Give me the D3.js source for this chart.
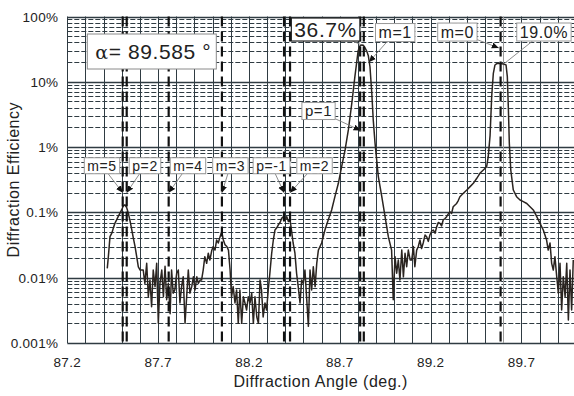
<!DOCTYPE html>
<html>
<head>
<meta charset="utf-8">
<script src="https://cdn.jsdelivr.net/npm/d3@7"></script>
<style>
  html, body { margin: 0; padding: 0; background: #fff; }
  svg { display: block; font-family: "Liberation Sans", Arial, sans-serif; }
</style>
</head>
<body>
<svg id="chart" width="574" height="396"></svg>
<script>
// measured diffraction efficiency (%) vs angle (deg.)
const angles = [
  87.420, 87.426, 87.435, 87.445, 87.453, 87.462, 87.480, 87.499, 87.508, 87.517,
  87.527, 87.536, 87.545, 87.555, 87.563, 87.573, 87.582, 87.591, 87.601, 87.618,
  87.627, 87.637, 87.646, 87.655, 87.664, 87.673, 87.683, 87.692, 87.701, 87.710,
  87.720, 87.729, 87.738, 87.747, 87.756, 87.766, 87.774, 87.783, 87.792, 87.802,
  87.811, 87.820, 87.829, 87.838, 87.848, 87.857, 87.866, 87.875, 87.885, 87.894,
  87.903, 87.913, 87.921, 87.931, 87.939, 87.948, 87.957, 87.967, 87.976, 87.985,
  87.995, 88.003, 88.013, 88.022, 88.031, 88.041, 88.050, 88.059, 88.068, 88.078,
  88.087, 88.096, 88.104, 88.113, 88.123, 88.132, 88.141, 88.150, 88.160, 88.169,
  88.178, 88.187, 88.196, 88.206, 88.215, 88.224, 88.233, 88.243, 88.252, 88.261,
  88.269, 88.278, 88.288, 88.297, 88.306, 88.315, 88.325, 88.334, 88.343, 88.353,
  88.361, 88.371, 88.380, 88.389, 88.398, 88.408, 88.417, 88.426, 88.434, 88.443,
  88.453, 88.462, 88.471, 88.481, 88.490, 88.499, 88.508, 88.518, 88.527, 88.536,
  88.545, 88.554, 88.564, 88.573, 88.582, 88.600, 88.618, 88.636, 88.655, 88.673,
  88.692, 88.710, 88.729, 88.747, 88.766, 88.783, 88.801, 88.811, 88.820, 88.829,
  88.838, 88.848, 88.857, 88.866, 88.876, 88.884, 88.894, 88.912, 88.931, 88.949,
  88.967, 88.985, 88.994, 89.004, 89.013, 89.022, 89.031, 89.041, 89.050, 89.059,
  89.068, 89.077, 89.087, 89.096, 89.105, 89.113, 89.123, 89.132, 89.141, 89.150,
  89.159, 89.169, 89.178, 89.187, 89.196, 89.206, 89.215, 89.224, 89.233, 89.242,
  89.252, 89.260, 89.269, 89.278, 89.288, 89.297, 89.306, 89.315, 89.324, 89.334,
  89.343, 89.352, 89.361, 89.380, 89.399, 89.417, 89.435, 89.453, 89.471, 89.490,
  89.508, 89.517, 89.527, 89.536, 89.545, 89.554, 89.564, 89.582, 89.600, 89.615,
  89.622, 89.628, 89.633, 89.641, 89.655, 89.673, 89.692, 89.710, 89.729, 89.747,
  89.765, 89.784, 89.802, 89.820, 89.838, 89.847, 89.857, 89.866, 89.875, 89.884,
  89.894, 89.903, 89.912, 89.921, 89.930, 89.940, 89.949, 89.958, 89.967, 89.976,
  89.985
];
const efficiency = [
  0.0139, 0.021, 0.0425, 0.048, 0.057, 0.068, 0.086, 0.109, 0.125, 0.131,
  0.118, 0.097, 0.075, 0.054, 0.041, 0.030, 0.021, 0.0147, 0.0131, 0.0131,
  0.0082, 0.0166, 0.0051, 0.0092, 0.0036, 0.0131, 0.0073, 0.0166, 0.002, 0.0082,
  0.0131, 0.0051, 0.0150, 0.0046, 0.0082, 0.0028, 0.0131, 0.0058, 0.0065, 0.0117,
  0.0131, 0.0041, 0.0073, 0.0103, 0.002, 0.0051, 0.0131, 0.0058, 0.0073, 0.0103,
  0.0065, 0.0103, 0.0082, 0.0092, 0.0092, 0.0131, 0.021, 0.0166, 0.0237, 0.0187,
  0.026, 0.030, 0.0265, 0.0378, 0.034, 0.0425, 0.0506, 0.0378, 0.032, 0.030,
  0.0265, 0.0131, 0.0051, 0.0073, 0.0041, 0.0065, 0.002, 0.0065, 0.002, 0.0051,
  0.0041, 0.0032, 0.0051, 0.0041, 0.0058, 0.002, 0.0051, 0.0025, 0.002, 0.0092,
  0.0065, 0.0025, 0.0041, 0.0032, 0.0065, 0.0117, 0.0237, 0.0378, 0.0537, 0.058,
  0.064, 0.070, 0.081, 0.086, 0.0766, 0.086, 0.0723, 0.0766, 0.0537, 0.034,
  0.0237, 0.0117, 0.0073, 0.0041, 0.0092, 0.0082, 0.0131, 0.0046, 0.0018, 0.0131,
  0.0065, 0.0147, 0.0073, 0.0166, 0.0265, 0.034, 0.0537, 0.0766, 0.109, 0.174,
  0.279, 0.501, 0.904, 1.83, 4.69, 12.0, 30.0, 35.5, 36.7, 36.2,
  33.5, 29.5, 25.0, 17.0, 6.67, 2.6, 1.14, 0.352, 0.174, 0.086,
  0.0425, 0.0265, 0.0046, 0.021, 0.0117, 0.0187, 0.0092, 0.0265, 0.0103, 0.0237,
  0.0147, 0.0265, 0.0187, 0.0187, 0.030, 0.0147, 0.0265, 0.030, 0.0378, 0.028,
  0.034, 0.045, 0.0425, 0.036, 0.045, 0.052, 0.0537, 0.048, 0.060, 0.070,
  0.068, 0.062, 0.0766, 0.080, 0.086, 0.095, 0.102, 0.096, 0.122, 0.130,
  0.137, 0.152, 0.174, 0.196, 0.22, 0.248, 0.279, 0.33, 0.397, 0.446,
  0.50, 0.713, 1.5, 6.0, 13.5, 18.1, 19.0, 19.0, 18.8, 18.1,
  12.0, 3.70, 1.14, 0.446, 0.22, 0.174, 0.155, 0.146, 0.137, 0.122,
  0.109, 0.086, 0.068, 0.0537, 0.0378, 0.0265, 0.034, 0.0166, 0.0131, 0.021,
  0.0103, 0.0058, 0.0166, 0.0032, 0.0103, 0.0051, 0.0166, 0.00225, 0.0131, 0.0032,
  0.0187
];

// calculated order positions (deg.)
const orderAngles = [87.505, 87.527, 87.758, 88.051, 88.393, 88.426, 88.812, 88.832, 89.585];
const alphaValue = 89.585;

const xTicks = [87.2, 87.7, 88.2, 88.7, 89.2, 89.7];
const yTicks = [0.001, 0.01, 0.1, 1, 10, 100];
const yTickLabels = ['0.001%', '0.01%', '0.1%', '1%', '10%', '100%'];

// annotations: label, the point it refers to (angle, %)
const annoText  = ['m=5', 'p=2', 'm=4', 'm=3', 'p=-1', 'm=2', 'p=1', 'm=1', 'm=0', '19.0%', '36.7%'];
const annoAngle = [87.505, 87.527, 87.758, 88.051, 88.393, 88.426, 88.814, 88.860, 89.575, 89.605, 88.820];
const annoValue = [0.2, 0.2, 0.2, 0.2, 0.2, 0.2, 1.8, 20, 33, 19.0, 36.7];

// box placement relative to the target point (px)
const annoLayout = [
    { dx: -20.7, dy: -27, size: 14, arrow: true },
    { dx: 18.3, dy: -27, size: 14, arrow: true },
    { dx: 19.3, dy: -27, size: 14, arrow: true },
    { dx: 8.5, dy: -27, size: 14, arrow: true },
    { dx: -12.5, dy: -27, size: 14, arrow: true },
    { dx: 24.5, dy: -27, size: 14, arrow: true },
    { dx: -42, dy: -19.4, size: 15, arrow: true },
    { dx: 26.3, dy: -29.6, size: 16, arrow: true },
    { dx: -41.4, dy: -15.9, size: 16, arrow: true },
    { dx: 39.7, dy: -31.6, size: 16, arrow: false },
    { dx: -36, dy: -15.4, size: 21, arrow: false, dark: true }
];

const width = 574, height = 396;
const margin = { top: 16.5, right: -2, bottom: 53, left: 67.3 };
const gridColor = '#2f3b42';

const svg = d3.select('#chart');

const x = d3.scaleLinear()
    .domain([87.2, 90.0])
    .range([margin.left, width - margin.right]);

const y = d3.scaleLog()
    .domain([0.001, 100])
    .range([height - margin.bottom, margin.top]);

const plotTop = y(100), plotBottom = y(0.001);
const plotLeft = x(87.2), plotRight = x(90.0);

svg.append('defs').append('clipPath')
    .attr('id', 'plot-clip')
    .append('rect')
    .attr('x', plotLeft).attr('y', plotTop - 1)
    .attr('width', plotRight - plotLeft).attr('height', plotBottom - plotTop + 2);

svg.select('defs').append('marker')
    .attr('id', 'arrow')
    .attr('viewBox', '0 -4 8 8')
    .attr('refX', 8)
    .attr('refY', 0)
    .attr('markerWidth', 7)
    .attr('markerHeight', 7)
    .attr('markerUnits', 'userSpaceOnUse')
    .attr('orient', 'auto')
    .append('path')
    .attr('d', 'M0,-3.5L8,0L0,3.5Z')
    .attr('fill', '#111');

// grid
const grid = svg.append('g').attr('class', 'grid');

const minorY = [];
yTicks.slice(0, -1).forEach(d => {
    for (let k = 2; k <= 9; k++) minorY.push(d * k);
});

grid.selectAll('line.minor-y')
    .data(minorY)
    .join('line')
    .attr('class', 'minor-y')
    .attr('x1', plotLeft).attr('x2', plotRight)
    .attr('y1', d => Math.round(y(d)) + 0.5).attr('y2', d => Math.round(y(d)) + 0.5)
    .attr('stroke', gridColor)
    .attr('stroke-width', 1)
    .attr('stroke-dasharray', '5,2');

grid.selectAll('line.major-y')
    .data(yTicks)
    .join('line')
    .attr('class', 'major-y')
    .attr('x1', plotLeft).attr('x2', plotRight)
    .attr('y1', d => Math.round(y(d)) + 0.5).attr('y2', d => Math.round(y(d)) + 0.5)
    .attr('stroke', gridColor)
    .attr('stroke-width', 1.3);

const vGrid = d3.range(0, 29).map(i => +(87.2 + i * 0.1).toFixed(1));
grid.selectAll('line.v')
    .data(vGrid)
    .join('line')
    .attr('class', 'v')
    .attr('x1', d => Math.round(x(d)) + 0.5).attr('x2', d => Math.round(x(d)) + 0.5)
    .attr('y1', plotTop).attr('y2', plotBottom)
    .attr('stroke', d => Math.abs(d - 89.6) < 1e-6 ? '#9a9a9a' : gridColor)
    .attr('stroke-width', 1);

// curve
const line = d3.line()
    .x(i => x(angles[i]))
    .y(i => y(efficiency[i]));

svg.append('path')
    .datum(d3.range(angles.length))
    .attr('clip-path', 'url(#plot-clip)')
    .attr('d', line)
    .attr('fill', 'none')
    .attr('stroke', '#2a2420')
    .attr('stroke-width', 1.5)
    .attr('stroke-linejoin', 'round');

// order positions
svg.append('g')
    .selectAll('line')
    .data(orderAngles)
    .join('line')
    .attr('x1', d => x(d)).attr('x2', d => x(d))
    .attr('y1', plotTop).attr('y2', plotBottom + 3)
    .attr('stroke', '#111')
    .attr('stroke-width', 2.2)
    .attr('stroke-dasharray', '10,5');

// axes labels
svg.append('g')
    .selectAll('text')
    .data(xTicks)
    .join('text')
    .attr('x', d => x(d))
    .attr('y', plotBottom + 24)
    .attr('text-anchor', 'middle')
    .attr('font-size', 13.5)
    .attr('letter-spacing', 0.3)
    .attr('fill', '#222')
    .text(d => d.toFixed(1));

svg.append('g')
    .selectAll('text')
    .data(yTicks)
    .join('text')
    .attr('x', plotLeft - 9)
    .attr('y', d => y(d) + 5)
    .attr('text-anchor', 'end')
    .attr('font-size', 13.5)
    .attr('letter-spacing', 0.3)
    .attr('fill', '#222')
    .text((d, i) => yTickLabels[i]);

svg.append('text')
    .attr('x', (plotLeft + width) / 2)
    .attr('y', height - 9)
    .attr('text-anchor', 'middle')
    .attr('font-size', 16)
    .attr('letter-spacing', 0.5)
    .attr('fill', '#222')
    .text('Diffraction Angle (deg.)');

svg.append('text')
    .attr('transform', `translate(19,${(plotTop + plotBottom) / 2}) rotate(-90)`)
    .attr('text-anchor', 'middle')
    .attr('font-size', 16)
    .attr('letter-spacing', 0.5)
    .attr('fill', '#222')
    .text('Diffraction Efficiency');

// alpha box
const alphaG = svg.append('g');
alphaG.append('rect')
    .attr('x', plotLeft + 20).attr('y', 34)
    .attr('width', 129).attr('height', 35)
    .attr('fill', '#fff')
    .attr('stroke', '#8a8a8a')
    .attr('stroke-width', 1);
const alphaText = alphaG.append('text')
    .attr('x', plotLeft + 28).attr('y', 59)
    .attr('font-size', 21)
    .attr('letter-spacing', 0.6)
    .attr('fill', '#222');
alphaText.append('tspan')
    .attr('font-family', '"DejaVu Serif", "Liberation Serif", serif')
    .attr('font-size', 19)
    .text('α');
alphaText.append('tspan')
    .text('= ' + alphaValue.toFixed(3) + ' °');

// annotations
const annoG = svg.append('g');
annoText.forEach((label, i) => {
    const lay = annoLayout[i];
    const tx = x(annoAngle[i]), ty = y(annoValue[i]);
    const cx = tx + lay.dx, cy = ty + lay.dy;

    const g = annoG.append('g');
    const text = g.append('text')
        .attr('x', cx).attr('y', cy + lay.size * 0.36)
        .attr('text-anchor', 'middle')
        .attr('font-size', lay.size)
        .attr('letter-spacing', 0.6)
        .attr('fill', '#222')
        .text(label);
    const tw = text.node().getComputedTextLength();
    const bw = tw + 6, bh = lay.size + 2;

    // line from the box edge to the target
    const vx = tx - cx, vy = ty - cy;
    const t = Math.min((bw / 2) / Math.abs(vx || 1e-6), (bh / 2) / Math.abs(vy || 1e-6));
    g.insert('line', 'text')
        .attr('x1', cx + vx * t).attr('y1', cy + vy * t)
        .attr('x2', tx).attr('y2', ty)
        .attr('stroke', '#808080')
        .attr('stroke-width', 0.9)
        .attr('marker-end', lay.arrow ? 'url(#arrow)' : null);

    g.insert('rect', 'text')
        .attr('x', cx - bw / 2).attr('y', cy - bh / 2)
        .attr('width', bw).attr('height', bh)
        .attr('fill', '#fff')
        .attr('stroke', lay.dark ? '#222' : '#9a9a9a')
        .attr('stroke-width', lay.dark ? 1.2 : 1);
});
</script>
</body>
</html>
